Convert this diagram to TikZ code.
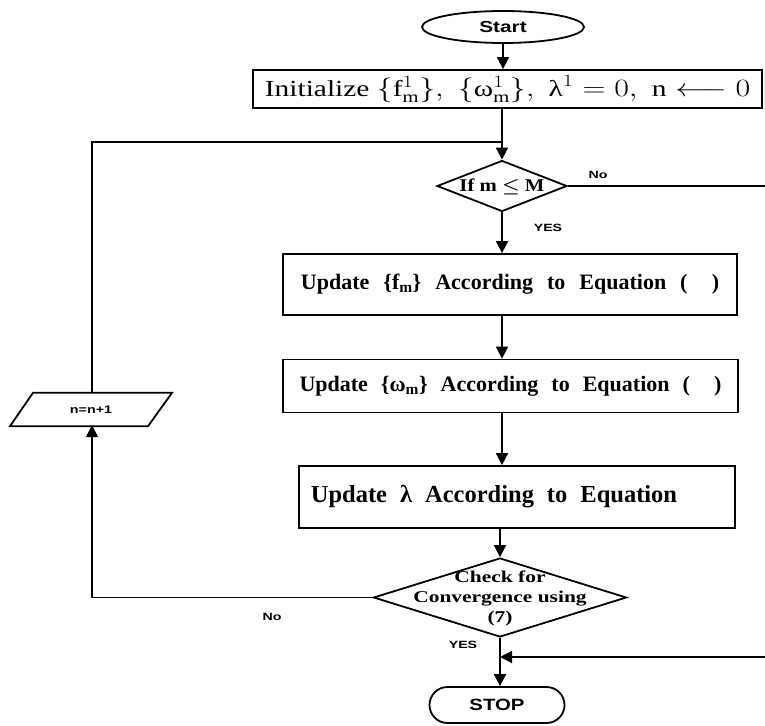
\documentclass[tikz,border=0pt]{standalone}
\usepackage{amsmath}
\usepackage{graphicx}
\usepackage{fontspec}
\setmainfont{Liberation Serif}
\newfontfamily\lsans{Liberation Sans}
\newcommand{\hstr}[2][1.3]{\scalebox{#1}[1]{#2}}
\newcommand{\wsp}[1]{\spaceskip=#1\relax}
\usetikzlibrary{shapes.geometric,shapes.misc,arrows.meta}
\tikzset{
  ln/.style={line width=1.8pt,draw=black},
  arr/.style={ln,-{Triangle[length=12pt,width=12pt]}},
  boxnode/.style={draw,line width=1.8pt,rectangle,inner sep=0pt},
  lbl/.style={font=\lsans\bfseries\fontsize{10.5}{12}\selectfont,inner sep=0pt},
}
\begin{document}
\begin{tikzpicture}[x=1pt,y=-1pt]
\useasboundingbox (0,0) rectangle (765,725);
% nodes
\node[ellipse,draw,line width=1.8pt,minimum width=162pt,minimum height=32pt,inner sep=0pt,font=\lsans\bfseries\fontsize{16}{18}\selectfont] (start) at (503,27) {\hstr{Start}};
\node[draw,line width=1.8pt,rectangle,minimum width=509pt,minimum height=38pt,inner sep=0pt,font=\fontsize{23}{25}\selectfont] (init) at (507.5,89)
  {\hstr[1.28]{Initialize $\{\mathrm{f}_{\mathrm{m}}^{1}\},\;\{\text{ω}_{\mathrm{m}}^{1}\},\;\text{λ}^{1}=0,\;\mathrm{n}\longleftarrow 0$}};
\node[diamond,draw,line width=1.8pt,minimum width=130pt,minimum height=51pt,inner sep=0pt,aspect=2.55] (d1) at (502,186) {};
\node[font=\bfseries\fontsize{18}{20}\selectfont,inner sep=0pt] (d1t) at (502,187) {\hstr[1.15]{If m $\boldsymbol{\leq}$ M}};
\node[boxnode,minimum width=454pt,minimum height=61pt,font={\bfseries\fontsize{22}{24}\selectfont\wsp{14pt}}] (b1) at (510,284.5) {Update \{f\textsubscript{m}\} According to Equation (\hspace{1.1em})};
\node[boxnode,minimum width=455pt,minimum height=53pt,font={\bfseries\fontsize{22}{24}\selectfont\wsp{13pt}}] (b2) at (510.5,386) {Update \{ω\textsubscript{m}\} According to Equation (\hspace{1.1em})};
\node[boxnode,minimum width=436pt,minimum height=62pt,font={\bfseries\fontsize{24.5}{26}\selectfont\wsp{13pt}}] (b3) at (517,497) {\hspace{-46pt}Update λ According to Equation};
\node[diamond,draw,line width=1.8pt,minimum width=253pt,minimum height=79pt,inner sep=0pt,aspect=3.2] (d2) at (500,597.5) {};
\node[font=\bfseries\fontsize{16.5}{20}\selectfont,align=center,inner sep=0pt] (d2t) at (500,598) {\hstr[1.3]{Check for}\\\hstr[1.3]{Convergence using}\\\hstr[1.3]{(7)}};
\node[rectangle,minimum width=100pt,minimum height=33pt,inner sep=0pt,font=\lsans\bfseries\fontsize{11}{12}\selectfont] (para) at (91,409.5) {\hstr{n=n+1}};
\draw[ln,line join=miter] ([xshift=-81pt]para.south) -- ([xshift=57pt]para.south) -- ([xshift=81pt]para.north) -- ([xshift=-58pt]para.north) -- cycle;
\node[rounded rectangle,draw,line width=1.8pt,minimum width=135pt,minimum height=36pt,inner sep=0pt,font=\lsans\bfseries\fontsize{16.3}{18}\selectfont] (stop) at (497,705) {\hstr[1.25]{STOP}};
% coordinates
\coordinate (looptop) at (92,142);
\coordinate (noR) at (766,186);
\coordinate (backR) at (766,657);
% connectors
\draw[arr] (start.south) -- (start.south |- init.north);
\draw[arr] (d1.north |- init.south) -- (d1.north);
\draw[ln] (para.north -| looptop) -- (looptop) -- (looptop -| d1.north);
\draw[ln] (d1.east) -- (noR);
\draw[arr] (d1.south) -- (d1.south |- b1.north);
\draw[arr] (d1.south |- b1.south) -- (d1.south |- b2.north);
\draw[arr] (d1.south |- b2.south) -- (d1.south |- b3.north);
\draw[arr] (d2.north |- b3.south) -- (d2.north);
\draw[arr] (d2.south) -- (d2.south |- stop.north);
\draw[arr] (backR) -- (backR -| d2.south);
\draw[arr] (d2.west) -- (d2.west -| looptop) -- ([yshift=1pt]para.south -| looptop);
% labels
\node[lbl] (lno1) at (598,175) {\hstr[1.35]{No}};
\node[lbl] (lyes1) at (548,228) {\hstr[1.35]{YES}};
\node[lbl] (lno2) at (272,617) {\hstr[1.35]{No}};
\node[lbl] (lyes2) at (463,645) {\hstr[1.35]{YES}};
\end{tikzpicture}
\end{document}
